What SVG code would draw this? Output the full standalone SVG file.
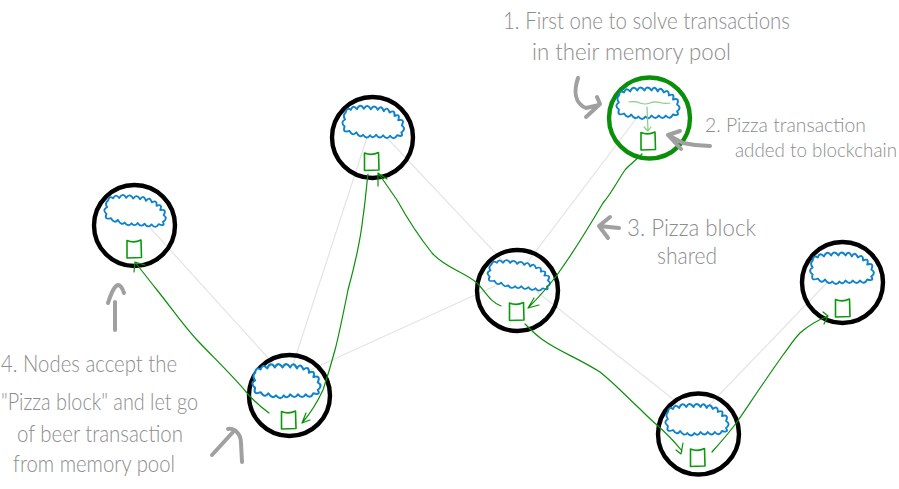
<svg xmlns="http://www.w3.org/2000/svg" width="899" height="489" viewBox="0 0 899 489">
<style>
.bg{fill:#fff}
.ring{fill:none;stroke:#000;stroke-width:4.4}
.ring.win{stroke:#0a8f0a}
.cloud{fill:#fff;stroke:#0e83cb;stroke-width:1.9;stroke-linejoin:round}
.box{fill:none;stroke:#0a9a0a;stroke-width:1.6;stroke-linejoin:round}
.link{stroke:#e4e4e4;stroke-width:1.2;fill:none}
.send{stroke:#0a8f0a;stroke-width:1.2;fill:none;stroke-linecap:round;stroke-linejoin:round}
.pale{stroke:#86cc86;stroke-width:1.2;fill:none;stroke-linecap:round;stroke-linejoin:round}
.note{stroke:#a0a0a0;stroke-width:4;fill:none;stroke-linecap:round;stroke-linejoin:round}
text{font-family:"Lato","Liberation Sans",sans-serif;font-weight:300;font-size:23px;fill:#8c8c8c}
text.tight{font-size:20.500px}
text.edge{font-size:19px}
</style>
<defs>
<path id="c" d="M-29,-22Q-28,-28 -24,-25Q-22,-31 -18,-26Q-15,-33 -11,-27Q-8,-33 -4,-27Q-1,-33 3,-27Q6,-33 9,-26Q12,-32 15,-25Q20,-29 20,-22Q26,-25 24,-18Q31,-20 28,-13Q33,-10 28,-6Q31,-1 24,-3Q21,3 17,-2Q14,3 10,-2Q7,3 3,-2Q0,3 -3,-1Q-6,4 -10,-1Q-13,3 -17,-3Q-20,2 -24,-4Q-31,-1 -29,-8Q-34,-12 -29,-15Q-32,-19 -29,-22Z"/>
<path id="b" d="M-7,-9Q0,-6 7,-9.500L7.500,8L-7,8.500Z"/>
</defs>
<rect class="bg" width="899" height="489"/>
<g id="links">
<path class="link" d="M134,210L288,380M288,380L372,122M288,380L517,276M372,122L517,276M517,276L648,103M517,276L697,418M697,418L842,267"/>
</g>
<g id="node-a"><circle class="ring" cx="134.500" cy="225.500" r="40.500"/><use class="cloud" href="#c" transform="translate(134.500,224.500) rotate(6) scale(1,.95)"/><use class="box" href="#b" transform="translate(134,249.500)"/></g>
<g id="node-b"><circle class="ring" cx="372.500" cy="137.500" r="40.500"/><use class="cloud" href="#c" transform="translate(373,136.500) rotate(4)"/><use class="box" href="#b" transform="translate(371.500,162)"/></g>
<g id="node-c"><circle class="ring win" cx="649.500" cy="118" r="40.500"/><use class="cloud" href="#c" transform="translate(648.500,117.500) scale(1.02,1)"/><use class="box" href="#b" transform="translate(648,141.500)"/></g>
<g id="node-d"><circle class="ring" cx="517.500" cy="290.500" r="40.500"/><use class="cloud" href="#c" transform="translate(518,287.500) rotate(8) scale(1.02,.86)"/><use class="box" href="#b" transform="translate(516.500,312)"/></g>
<g id="node-e"><circle class="ring" cx="289.500" cy="395.500" r="40.500"/><use class="cloud" href="#c" transform="translate(287,396.500) scale(1.1,1.08)"/><use class="box" href="#b" transform="translate(288.500,420.500)"/></g>
<g id="node-f"><circle class="ring" cx="698.500" cy="434" r="40.500"/><use class="cloud" href="#c" transform="translate(697.500,434) scale(1.02,1)"/><use class="box" href="#b" transform="translate(697.500,458)"/></g>
<g id="node-g"><circle class="ring" cx="842.500" cy="282.500" r="40.500"/><use class="cloud" href="#c" transform="translate(842.500,282.500) scale(1.03,1)"/><use class="box" href="#b" transform="translate(842.500,308.500)"/></g>
<g id="connectors">
<path class="send" d="M642,154C634,162 628,166 625,170C618,180 611,194 603,203C590,225 573,253 557,275C548,287 538,298 528,308M539,305L528,308L534,298"/>
<path class="send" d="M501,306C490,302 485,291 477,283C465,272 445,268 432,253C420,238 407,218 397,200C390,190 384,181 378,173M378,186L378,173L387,179"/>
<path class="send" d="M368,174C366,190 365,205 363,217C360,245 354,268 348,290C343,315 339,335 335,350C331,365 327,378 323,390C316,405 309,415 302,423M310,420L302,423L306,413"/>
<path class="send" d="M269,413C262,408 254,401 247,393C232,375 214,358 197,340C183,325 170,306 157,290C149,280 142,271 135,262M134,272L135,262L145,265"/>
<path class="send" d="M525,324C531,330 537,336 543,340C560,352 578,358 600,372C615,384 628,398 640,409C646,415 652,421 657,425C666,433 674,441 682,451M683,443L681,454L676,450"/>
<path class="send" d="M712,452C720,443 729,433 737,422C752,400 768,376 783,355C789,347 794,339 800,333C808,326 818,320 828,316M823,312L828,316L824,324"/>
<path class="pale" d="M629,102Q635,101 640,103T650,103T660,102.500T670,103M647,107L648,130M644,127L648,131L651,127"/>
<path class="note" d="M578,78C574,90 574,103 586,108L599,105M597,97L600,104L586,117"/>
<path class="note" d="M710,146C700,146 692,145 683,143L668,135M680,131L668,135L681,149"/>
<path class="note" d="M619,228L599,226M610,217L599,226L608,238"/>
<path class="note" d="M115,302L115,330M108,303C111,294 114,286 118,285C121,285 123,290 124,293"/>
<path class="note" d="M212,455L233,432M228,429C234,428 241,433 241,443L242,462"/>
</g>
<g id="labels">
<text x="503" y="29" textLength="287" lengthAdjust="spacingAndGlyphs">1. First one to solve transactions</text>
<text x="532" y="60" textLength="199" lengthAdjust="spacingAndGlyphs">in their memory pool</text>
<text class="tight" x="705" y="132" textLength="161" lengthAdjust="spacingAndGlyphs">2. Pizza transaction</text>
<text class="edge" x="735" y="157" textLength="162" lengthAdjust="spacingAndGlyphs">added to blockchain</text>
<text x="627" y="236" textLength="129" lengthAdjust="spacingAndGlyphs">3. Pizza block</text>
<text x="657" y="264" textLength="60" lengthAdjust="spacingAndGlyphs">shared</text>
<text x="1" y="372" textLength="176" lengthAdjust="spacingAndGlyphs">4. Nodes accept the</text>
<text x="1" y="410" textLength="197" lengthAdjust="spacingAndGlyphs">"Pizza block" and let go</text>
<text x="17" y="442" textLength="166" lengthAdjust="spacingAndGlyphs">of beer transaction</text>
<text x="13" y="472" textLength="162" lengthAdjust="spacingAndGlyphs">from memory pool</text>
</g>
</svg>
